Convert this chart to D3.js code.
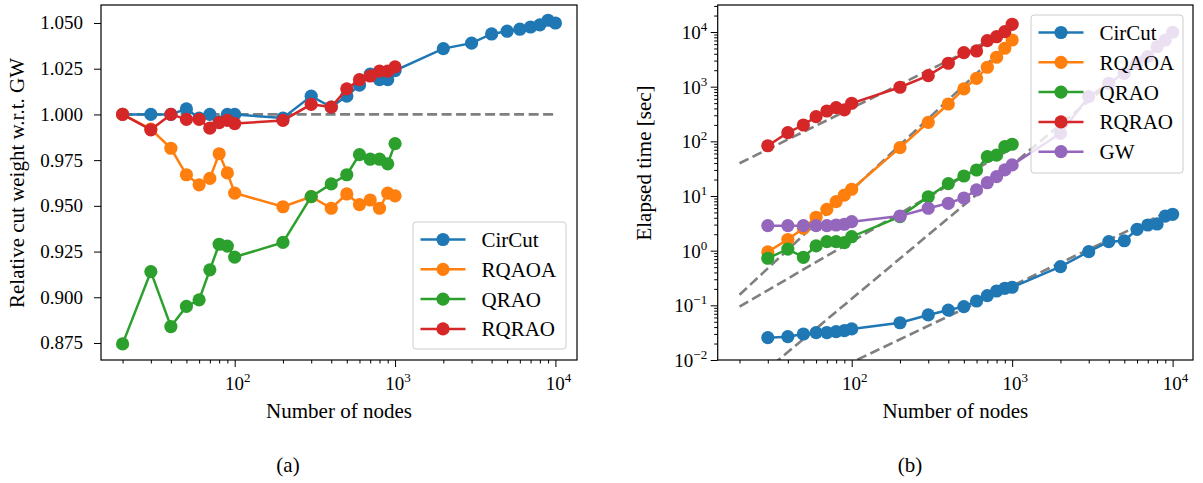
<!DOCTYPE html>
<html>
<head>
<meta charset="utf-8">
<script src="https://cdn.jsdelivr.net/npm/d3@7"></script>
<style>
  body { margin: 0; background: #fff; }
  text { font-family: "Liberation Serif", "DejaVu Serif", serif; fill: #000; }
</style>
</head>
<body>
<div id="chart"></div>
<script>
// ---- data ----
const nodesLeft = [20, 30, 40, 50, 60, 70, 80, 90, 100, 200, 300, 400, 500, 600, 700, 800, 900, 1000,
  2000, 3000, 4000, 5000, 6000, 7000, 8000, 9000, 10000];
const nodesRight = [30, 40, 50, 60, 70, 80, 90, 100, 200, 300, 400, 500, 600, 700, 800, 900, 1000,
  2000, 3000, 4000, 5000, 6000, 7000, 8000, 9000, 10000];

// (a) relative cut weight w.r.t. GW
const ratioCirCut = [1.000, 1.000, 1.000, 1.003, 0.998, 1.000, 0.996, 1.000, 1.000, 0.998, 1.010, 1.004, 1.010,
  1.016, 1.022, 1.019, 1.019, 1.024, 1.036, 1.039, 1.044, 1.0455, 1.0466, 1.0478, 1.049, 1.0515, 1.050];
const ratioRQAOA = [1.000, 0.992, 0.9815, 0.967, 0.9615, 0.965, 0.9785, 0.968, 0.957, 0.9495, 0.955, 0.9487,
  0.9565, 0.9507, 0.9532, 0.9487, 0.957, 0.9555];
const ratioQRAO = [0.8745, 0.914, 0.884, 0.895, 0.8986, 0.915, 0.929, 0.928, 0.922, 0.930, 0.955, 0.962,
  0.967, 0.978, 0.9755, 0.9755, 0.973, 0.984];
const ratioRQRAO = [1.000, 0.9916, 1.000, 0.9973, 0.9973, 0.9925, 0.9955, 0.9967, 0.995, 0.9967, 1.0055, 1.004,
  1.014, 1.019, 1.021, 1.0237, 1.0237, 1.026];
const refLine = [[20, 1.0], [10000, 1.0]];

// (b) elapsed time [sec]
const timeCirCut = [0.0256, 0.0267, 0.0299, 0.0316, 0.0318, 0.033, 0.0344, 0.037, 0.048, 0.0667, 0.082, 0.0946,
  0.12, 0.15, 0.183, 0.205, 0.214, 0.51, 0.96, 1.46, 1.52, 2.46, 2.95, 3.08, 4.3, 4.63];
const timeRQAOA = [0.95, 1.6, 2.57, 4.08, 5.7, 7.9, 10.4, 13.3, 76.6, 223, 482, 910, 1422, 2264, 3450, 5040, 7140];
const timeQRAO = [0.726, 1.07, 0.757, 1.22, 1.46, 1.46, 1.40, 1.80, 4.2, 9.7, 16.8, 23.2, 29.9, 52.4, 56, 79.8, 88.4];
const timeRQRAO = [83, 144, 199, 283, 359, 413, 375, 497, 975, 1589, 2680, 4190, 4500, 6935, 8200, 10140, 13840];
const timeGW = [2.87, 2.87, 2.87, 2.87, 2.87, 2.95, 3.04, 3.39, 4.31, 5.97, 7.36, 9.2, 12.9, 17.5, 22.6, 30, 37,
  140, 656, 1153, 1757, 2680, 3540, 5380, 7140, 9890];

// dashed power-law fits, end points
const fitRQRAO = [[20, 39.7], [1000, 11250]];
const fitRQAOA = [[20, 0.156], [1000, 7030]];
const fitQRAO = [[20, 0.0946], [1000, 75]];
const fitGW = [[20, 0.00255], [10000, 10470]];
const fitCirCut = [[20, 0.00095], [10000, 5.7]];

const leftTicks = [0.875, 0.900, 0.925, 0.950, 0.975, 1.000, 1.025, 1.050];
const xMajor = [100, 1000, 10000];
const yMajorRight = [0.01, 0.1, 1, 10, 100, 1000, 10000];

const colors = { CirCut: "#1f77b4", RQAOA: "#ff7f0e", QRAO: "#2ca02c", RQRAO: "#d62728", GW: "#9467bd" };

const svg = d3.select("#chart").append("svg").attr("width", 1203).attr("height", 483);

function zip(xs, ys) { return ys.map((v, i) => [xs[i], v]); }

function supLabel(sel, exp) {
  sel.append("tspan").text("10");
  sel.append("tspan").attr("font-size", 13).attr("dy", -8).text(exp < 0 ? "\u2212" + (-exp) : exp);
}

function drawPanel(opt) {
  const g = svg.append("g");
  const { x, y, x0, x1, y0, y1 } = opt;
  const clipId = "clip" + opt.id;
  svg.append("clipPath").attr("id", clipId).append("rect")
    .attr("x", x0).attr("y", y0).attr("width", x1 - x0).attr("height", y1 - y0);
  const plot = g.append("g").attr("clip-path", `url(#${clipId})`);

  const line = d3.line().x(d => x(d[0])).y(d => y(d[1]));

  opt.fits.forEach(f => {
    plot.append("path").attr("d", line(f)).attr("fill", "none")
      .attr("stroke", "#7f7f7f").attr("stroke-width", 2.6).attr("stroke-dasharray", "10,4.5");
  });

  opt.series.forEach(s => {
    const pts = zip(s.xs, s.ys);
    plot.append("path").attr("d", line(pts)).attr("fill", "none")
      .attr("stroke", colors[s.name]).attr("stroke-width", 2.5);
    plot.selectAll(null).data(pts).enter().append("circle")
      .attr("cx", d => x(d[0])).attr("cy", d => y(d[1])).attr("r", 6.6)
      .attr("fill", colors[s.name]);
  });

  // x axis (log)
  const xa = g.append("g").attr("transform", `translate(0,${y1})`);
  xa.call(d3.axisBottom(x).tickValues(x.ticks().filter(v => !xMajor.includes(v) && v > x.domain()[0] && v < x.domain()[1]))
    .tickSize(3.5).tickFormat(""));
  const xb = g.append("g").attr("transform", `translate(0,${y1})`);
  xb.call(d3.axisBottom(x).tickValues(xMajor).tickSize(7).tickFormat(""));
  [xa, xb].forEach(a => { a.select(".domain").remove(); a.selectAll("line").attr("stroke", "#000").attr("stroke-width", 1); });
  xMajor.forEach(v => {
    const t = g.append("text").attr("x", x(v) + 3).attr("y", 390).attr("text-anchor", "middle").attr("font-size", 19);
    supLabel(t, Math.round(Math.log10(v)));
  });

  // y axis
  if (opt.logY) {
    const ya = g.append("g").attr("transform", `translate(${x0},0)`);
    ya.call(d3.axisLeft(y).tickValues(y.ticks().filter(v => !yMajorRight.includes(v) && v >= y.domain()[0] && v <= y.domain()[1]))
      .tickSize(3.5).tickFormat(""));
    const yb = g.append("g").attr("transform", `translate(${x0},0)`);
    yb.call(d3.axisLeft(y).tickValues(yMajorRight).tickSize(7).tickFormat(""));
    [ya, yb].forEach(a => { a.select(".domain").remove(); a.selectAll("line").attr("stroke", "#000").attr("stroke-width", 1); });
    yMajorRight.forEach(v => {
      const t = g.append("text").attr("x", x0 - 10.5).attr("y", y(v) + 7).attr("text-anchor", "end").attr("font-size", 19);
      t.append("tspan").text("10");
      const e = Math.round(Math.log10(v));
      t.append("tspan").attr("font-size", 13).attr("dy", -8).text(e < 0 ? "\u2212" + (-e) : e);
    });
  } else {
    const ya = g.append("g").attr("transform", `translate(${x0},0)`);
    ya.call(d3.axisLeft(y).tickValues(leftTicks).tickSize(7).tickFormat(""));
    ya.select(".domain").remove();
    ya.selectAll("line").attr("stroke", "#000").attr("stroke-width", 1);
    leftTicks.forEach(v => {
      g.append("text").attr("x", x0 - 18).attr("y", y(v) + 6.5).attr("text-anchor", "end")
        .attr("font-size", 19).text(d3.format(".3f")(v));
    });
  }

  // frame
  g.append("rect").attr("x", x0).attr("y", y0).attr("width", x1 - x0).attr("height", y1 - y0)
    .attr("fill", "none").attr("stroke", "#000").attr("stroke-width", 1.2);

  // labels
  g.append("text").attr("x", (x0 + x1) / 2).attr("y", 418).attr("text-anchor", "middle")
    .attr("font-size", 21).text("Number of nodes");
  g.append("text").attr("transform", `translate(${opt.ylabelX},${opt.ylabelY}) rotate(-90)`)
    .attr("text-anchor", "middle").attr("font-size", 21).text(opt.ylabel);
  g.append("text").attr("x", opt.captionX).attr("y", 472).attr("text-anchor", "middle")
    .attr("font-size", 21).text(opt.caption);

  // legend
  const L = opt.legend;
  g.append("rect").attr("x", L.x).attr("y", L.y).attr("width", L.w).attr("height", L.h)
    .attr("rx", 3).attr("fill", "#fff").attr("fill-opacity", 0.8)
    .attr("stroke", "#cccccc").attr("stroke-width", 1);
  opt.series.forEach((s, i) => {
    const cy = L.y + 17.5 + i * 29.8;
    g.append("line").attr("x1", L.x + 7.5).attr("x2", L.x + 52.5).attr("y1", cy).attr("y2", cy)
      .attr("stroke", colors[s.name]).attr("stroke-width", 2.5);
    g.append("circle").attr("cx", L.x + 30).attr("cy", cy).attr("r", 6.6).attr("fill", colors[s.name]);
    g.append("text").attr("x", L.x + 68.5).attr("y", cy + 7.5).attr("font-size", 21).text(s.name);
  });
}

// ---- panel (a) ----
const xA = d3.scaleLog().domain([Math.pow(10, 1.1663), Math.pow(10, 4.1346)]).range([101, 577]);
const yA = d3.scaleLinear().domain([0.8657, 1.05984]).range([360, 5]);
drawPanel({
  id: "a", x: xA, y: yA, x0: 101, x1: 577, y0: 5, y1: 360, logY: false,
  fits: [refLine],
  series: [
    { name: "CirCut", xs: nodesLeft, ys: ratioCirCut },
    { name: "RQAOA", xs: nodesLeft, ys: ratioRQAOA },
    { name: "QRAO", xs: nodesLeft, ys: ratioQRAO },
    { name: "RQRAO", xs: nodesLeft, ys: ratioRQRAO }
  ],
  ylabel: "Relative cut weight w.r.t. GW", ylabelX: 24, ylabelY: 183,
  caption: "(a)", captionX: 288,
  legend: { x: 413, y: 222, w: 153, h: 127 }
});

// ---- panel (b) ----
const xB = d3.scaleLog().domain([Math.pow(10, 1.165), Math.pow(10, 4.127)]).range([717.7, 1193]);
const yB = d3.scaleLog().domain([0.01, Math.pow(10, 4.494)]).range([360, 5]);
drawPanel({
  id: "b", x: xB, y: yB, x0: 717.7, x1: 1193, y0: 5, y1: 360, logY: true,
  fits: [fitRQRAO, fitRQAOA, fitQRAO, fitGW, fitCirCut],
  series: [
    { name: "CirCut", xs: nodesRight, ys: timeCirCut },
    { name: "RQAOA", xs: nodesRight, ys: timeRQAOA },
    { name: "QRAO", xs: nodesRight, ys: timeQRAO },
    { name: "RQRAO", xs: nodesRight, ys: timeRQRAO },
    { name: "GW", xs: nodesRight, ys: timeGW }
  ],
  ylabel: "Elapsed time [sec]", ylabelX: 651, ylabelY: 163,
  caption: "(b)", captionX: 910,
  legend: { x: 1031, y: 15, w: 152, h: 158 }
});
</script>
</body>
</html>
